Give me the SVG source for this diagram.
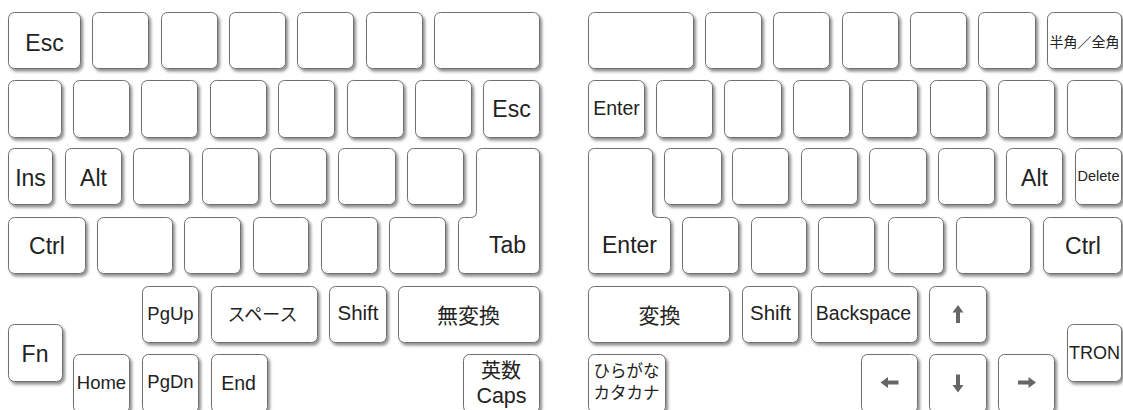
<svg xmlns="http://www.w3.org/2000/svg" width="1123" height="410" viewBox="0 0 1123 410">
<defs>
<filter id="sh" x="-20%" y="-20%" width="140%" height="140%">
<feDropShadow dx="2" dy="2.5" stdDeviation="1.4" flood-color="#000" flood-opacity="0.45"/>
</filter>
<path id="arr" d="M0,-9 L5.5,-1.5 L2,-1.5 L2,9 L-2,9 L-2,-1.5 L-5.5,-1.5 Z" fill="#666"/>
</defs>
<style>
.k{fill:#fff;stroke:#707070;stroke-width:1;filter:url(#sh)}
text{font-family:"Liberation Sans","Noto Sans CJK JP",sans-serif;fill:#222;text-anchor:middle}
.j{font-family:"Noto Sans CJK JP","Liberation Sans",sans-serif}
.b{font-size:23px}
</style>
<rect width="1123" height="410" fill="#fff"/>
<g id="left">
<g id="l-r1">
<g id="k-esc1"><rect class="k" x="8.5" y="12.5" width="72" height="56" rx="6"/><text class="b" x="44.5" y="51">Esc</text></g>
<rect class="k" x="92.5" y="12.5" width="56" height="56" rx="6"/>
<rect class="k" x="161.5" y="12.5" width="56" height="56" rx="6"/>
<rect class="k" x="229.5" y="12.5" width="56" height="56" rx="6"/>
<rect class="k" x="297.5" y="12.5" width="56" height="56" rx="6"/>
<rect class="k" x="366.5" y="12.5" width="56" height="56" rx="6"/>
<rect class="k" x="434.5" y="12.5" width="105" height="56" rx="6"/>
</g>
<g id="l-r2">
<rect class="k" x="8.5" y="80.5" width="53" height="57" rx="6"/>
<rect class="k" x="73.5" y="80.5" width="56" height="57" rx="6"/>
<rect class="k" x="141.5" y="80.5" width="56" height="57" rx="6"/>
<rect class="k" x="210.5" y="80.5" width="56" height="57" rx="6"/>
<rect class="k" x="278.5" y="80.5" width="56" height="57" rx="6"/>
<rect class="k" x="347.5" y="80.5" width="56" height="57" rx="6"/>
<rect class="k" x="415.5" y="80.5" width="56" height="57" rx="6"/>
<g id="k-esc2"><rect class="k" x="483.5" y="80.5" width="56" height="57" rx="6"/><text class="b" x="511.5" y="117">Esc</text></g>
</g>
<g id="l-r3">
<g id="k-ins"><rect class="k" x="8.5" y="148.5" width="44" height="56" rx="6"/><text class="b" x="30.5" y="186">Ins</text></g>
<g id="k-alt1"><rect class="k" x="65.5" y="148.5" width="56" height="56" rx="6"/><text class="b" x="93.5" y="186">Alt</text></g>
<rect class="k" x="133.5" y="148.5" width="56" height="56" rx="6"/>
<rect class="k" x="202.5" y="148.5" width="56" height="56" rx="6"/>
<rect class="k" x="270.5" y="148.5" width="56" height="56" rx="6"/>
<rect class="k" x="338.5" y="148.5" width="57" height="56" rx="6"/>
<rect class="k" x="407.5" y="148.5" width="56" height="56" rx="6"/>
</g>
<g id="k-tab"><path class="k" d="M482.5,148.5 H533.5 Q539.5,148.5 539.5,154.5 V267.5 Q539.5,273.5 533.5,273.5 H464.5 Q458.5,273.5 458.5,267.5 V223.5 Q458.5,217.5 464.5,217.5 H470.5 Q476.5,217.5 476.5,211.5 V154.5 Q476.5,148.5 482.5,148.5 Z"/><text class="b" x="507.5" y="253">Tab</text></g>
<g id="l-r4">
<g id="k-ctrl1"><rect class="k" x="8.5" y="217.5" width="77" height="56" rx="6"/><text class="b" x="47" y="254">Ctrl</text></g>
<rect class="k" x="97.5" y="217.5" width="75" height="56" rx="6"/>
<rect class="k" x="184.5" y="217.5" width="56" height="56" rx="6"/>
<rect class="k" x="253.5" y="217.5" width="55" height="56" rx="6"/>
<rect class="k" x="321.5" y="217.5" width="56" height="56" rx="6"/>
<rect class="k" x="389.5" y="217.5" width="56" height="56" rx="6"/>
</g>
<g id="l-r5">
<g id="k-pgup"><rect class="k" x="142.5" y="286.5" width="56" height="56" rx="6"/><text x="170.5" y="320" font-size="18.5">PgUp</text></g>
<g id="k-space"><rect class="k" x="211.5" y="286.5" width="106" height="56" rx="6"/><text class="j" x="262.5" y="321" font-size="18">スペース</text></g>
<g id="k-shift1"><rect class="k" x="329.5" y="286.5" width="57" height="56" rx="6"/><text x="358" y="320" font-size="20.5">Shift</text></g>
<g id="k-muhenkan"><rect class="k" x="398.5" y="286.5" width="141" height="56" rx="6"/><text class="j" x="468.5" y="323" font-size="21">無変換</text></g>
</g>
<g id="k-fn"><rect class="k" x="8.5" y="324.5" width="54" height="57" rx="6"/><text class="b" x="35" y="362">Fn</text></g>
<g id="l-r6">
<g id="k-home"><rect class="k" x="73.5" y="354.5" width="56" height="58" rx="6"/><text x="101.5" y="389" font-size="18.5">Home</text></g>
<g id="k-pgdn"><rect class="k" x="142.5" y="354.5" width="56" height="58" rx="6"/><text x="170.5" y="388" font-size="18.5">PgDn</text></g>
<g id="k-end"><rect class="k" x="211.5" y="354.5" width="56" height="58" rx="6"/><text x="238.5" y="390" font-size="19.5">End</text></g>
<g id="k-eisu"><rect class="k" x="463.5" y="354.5" width="76" height="58" rx="6"/><text class="j" x="501" y="377.5" font-size="20">英数</text><text x="501.5" y="403" font-size="21.5">Caps</text></g>
</g>
</g>
<g id="right">
<g id="r-r1">
<rect class="k" x="588.5" y="12.5" width="105" height="56" rx="6"/>
<rect class="k" x="705.5" y="12.5" width="56" height="56" rx="6"/>
<rect class="k" x="773.5" y="12.5" width="56" height="56" rx="6"/>
<rect class="k" x="842.5" y="12.5" width="56" height="56" rx="6"/>
<rect class="k" x="910.5" y="12.5" width="56" height="56" rx="6"/>
<rect class="k" x="978.5" y="12.5" width="57" height="56" rx="6"/>
<g id="k-hankaku"><rect class="k" x="1047.5" y="12.5" width="74" height="56" rx="6"/><text class="j" x="1084.5" y="47" font-size="14">半角／全角</text></g>
</g>
<g id="r-r2">
<g id="k-enter1"><rect class="k" x="588.5" y="80.5" width="56" height="57" rx="6"/><text x="616.5" y="115" font-size="19.5">Enter</text></g>
<rect class="k" x="656.5" y="80.5" width="56" height="57" rx="6"/>
<rect class="k" x="724.5" y="80.5" width="57" height="57" rx="6"/>
<rect class="k" x="793.5" y="80.5" width="56" height="57" rx="6"/>
<rect class="k" x="862.5" y="80.5" width="55" height="57" rx="6"/>
<rect class="k" x="930.5" y="80.5" width="56" height="57" rx="6"/>
<rect class="k" x="998.5" y="80.5" width="56" height="57" rx="6"/>
<rect class="k" x="1067.5" y="80.5" width="54" height="57" rx="6"/>
</g>
<g id="k-enter2"><path class="k" d="M594.5,148.5 H646.5 Q652.5,148.5 652.5,154.5 V211.5 Q652.5,217.5 658.5,217.5 H664.5 Q670.5,217.5 670.5,223.5 V267.5 Q670.5,273.5 664.5,273.5 H594.5 Q588.5,273.5 588.5,267.5 V154.5 Q588.5,148.5 594.5,148.5 Z"/><text class="b" x="629.5" y="253">Enter</text></g>
<g id="r-r3">
<rect class="k" x="664.5" y="148.5" width="57" height="56" rx="6"/>
<rect class="k" x="732.5" y="148.5" width="56" height="56" rx="6"/>
<rect class="k" x="801.5" y="148.5" width="56" height="56" rx="6"/>
<rect class="k" x="869.5" y="148.5" width="57" height="56" rx="6"/>
<rect class="k" x="938.5" y="148.5" width="56" height="56" rx="6"/>
<g id="k-alt2"><rect class="k" x="1006.5" y="148.5" width="56" height="56" rx="6"/><text class="b" x="1034.5" y="186">Alt</text></g>
<g id="k-delete"><rect class="k" x="1075.5" y="148.5" width="46" height="56" rx="6"/><text x="1098.5" y="181" font-size="14.5">Delete</text></g>
</g>
<g id="r-r4">
<rect class="k" x="682.5" y="217.5" width="56" height="56" rx="6"/>
<rect class="k" x="751.5" y="217.5" width="55" height="56" rx="6"/>
<rect class="k" x="818.5" y="217.5" width="56" height="56" rx="6"/>
<rect class="k" x="888.5" y="217.5" width="55" height="56" rx="6"/>
<rect class="k" x="956.5" y="217.5" width="74" height="56" rx="6"/>
<g id="k-ctrl2"><rect class="k" x="1043.5" y="217.5" width="78" height="56" rx="6"/><text class="b" x="1083" y="254">Ctrl</text></g>
</g>
<g id="r-r5">
<g id="k-henkan"><rect class="k" x="588.5" y="286.5" width="141" height="56" rx="6"/><text class="j" x="659.5" y="323" font-size="21">変換</text></g>
<g id="k-shift2"><rect class="k" x="742.5" y="286.5" width="56" height="56" rx="6"/><text x="770.5" y="320" font-size="20.5">Shift</text></g>
<g id="k-bs"><rect class="k" x="811.5" y="286.5" width="106" height="56" rx="6"/><text x="863.5" y="320" font-size="19.5">Backspace</text></g>
<g id="k-up"><rect class="k" x="929.5" y="286.5" width="57" height="56" rx="6"/><use href="#arr" x="958" y="314"/></g>
</g>
<g id="k-tron"><rect class="k" x="1067.5" y="324.5" width="54" height="57" rx="6"/><text x="1094.5" y="359" font-size="18">TRON</text></g>
<g id="r-r6">
<g id="k-kana"><rect class="k" x="588.5" y="354.5" width="77" height="58" rx="6"/><text class="j" x="626.5" y="377" font-size="16.5">ひらがな</text><text class="j" x="626.5" y="399" font-size="16.5">カタカナ</text></g>
<g id="k-left"><rect class="k" x="861.5" y="354.5" width="56" height="58" rx="6"/><use href="#arr" transform="translate(889.5,382.5) rotate(-90)"/></g>
<g id="k-down"><rect class="k" x="929.5" y="354.5" width="57" height="58" rx="6"/><use href="#arr" transform="translate(958,383.5) rotate(180)"/></g>
<g id="k-right"><rect class="k" x="998.5" y="354.5" width="56" height="58" rx="6"/><use href="#arr" transform="translate(1027,382.5) rotate(90)"/></g>
</g>
</g>
<g id="connectors"/>
</svg>
